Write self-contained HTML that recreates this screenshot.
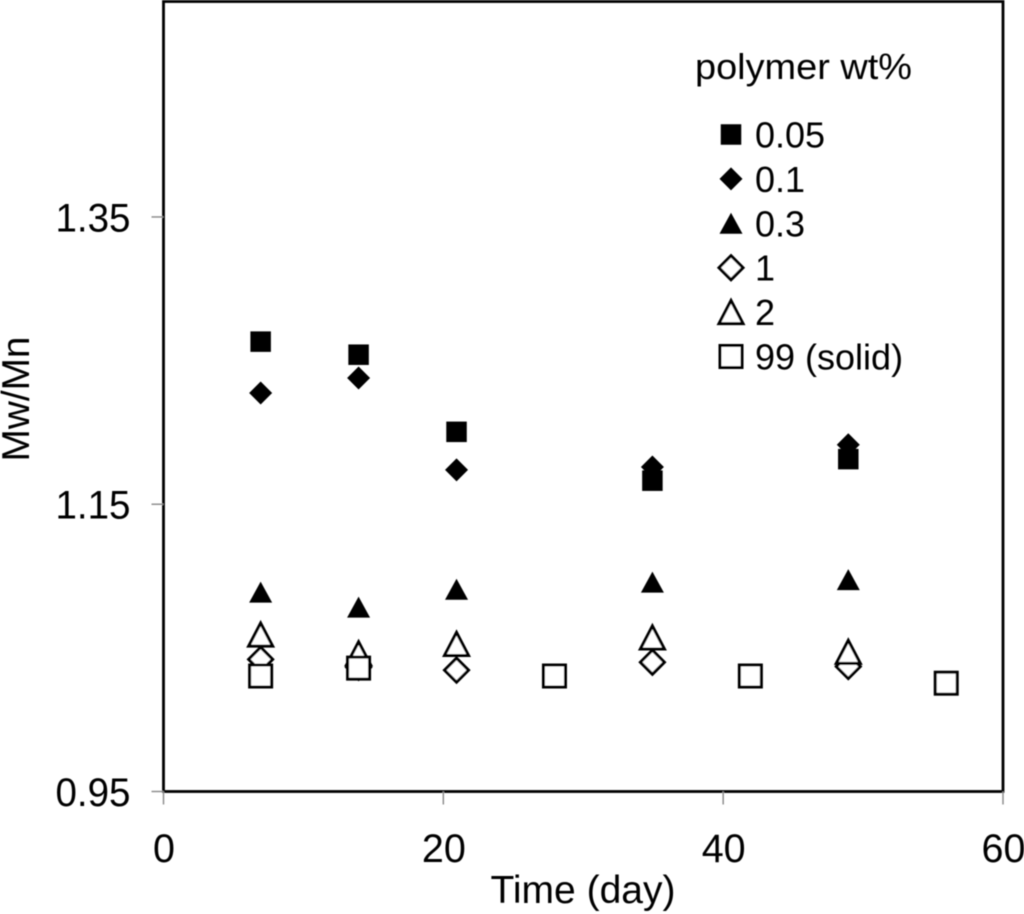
<!DOCTYPE html>
<html lang="en">
<head>
<meta charset="utf-8">
<title>Mw/Mn vs Time</title>
<style>
html,body{margin:0;padding:0;background:#fff;}
svg{display:block;}
text{font-family:"Liberation Sans",sans-serif;fill:#000;}
</style>
</head>
<body>
<svg id="chart" xmlns="http://www.w3.org/2000/svg" width="1024" height="914" viewBox="0 0 1024 914">
<defs><filter id="soft" x="-5%" y="-5%" width="110%" height="110%"><feGaussianBlur stdDeviation="0.4"/></filter></defs>
<rect width="1024" height="914" fill="#fff"/>
<g id="root" filter="url(#soft)"></g>
</svg>
<script>
const xTicks = [0, 20, 40, 60];
const yTicks = ["0.95", "1.15", "1.35"];
const legendTitle = "polymer wt%";

const seriesNames = ["0.05", "0.1", "0.3", "1", "2", "99 (solid)"];
const seriesSymbols = ["square-filled", "diamond-filled", "triangle-filled", "diamond-open", "triangle-open", "square-open"];

const days05 = [7, 14, 21, 35, 49];
const vals05 = [1.2632, 1.2541, 1.2004, 1.1664, 1.1814];
const days01 = [7, 14, 21, 35, 49];
const vals01 = [1.2274, 1.2379, 1.1739, 1.1759, 1.1914];
const days03 = [7, 14, 21, 35, 49];
const vals03 = [1.0888, 1.0784, 1.0908, 1.0958, 1.0975];
const days1 = [7, 14, 21, 35, 49];
const vals1 = [1.042, 1.0365, 1.0345, 1.04, 1.037];
const days2 = [7, 14, 21, 35, 49];
const vals2 = [1.0592, 1.0462, 1.0527, 1.0572, 1.0472];
const days99 = [7, 14, 28, 42, 56];
const vals99 = [1.0304, 1.0359, 1.0304, 1.0304, 1.0254];

const allDays = [days05, days01, days03, days1, days2, days99];
const allVals = [vals05, vals01, vals03, vals1, vals2, vals99];

const NS = "http://www.w3.org/2000/svg";
const root = document.getElementById("root");
const plot = {left: 163.5, right: 1003, top: 1.5, bottom: 791.5};
const xMin = 0, xMax = 60, yMin = 0.95, yMax = 1.5;
function xScale(v) { return plot.left + (v - xMin) / (xMax - xMin) * (plot.right - plot.left); }
function yScale(v) { return plot.bottom - (v - yMin) / (yMax - yMin) * (plot.bottom - plot.top); }

function make(tag, attrs, parent) {
  const el = document.createElementNS(NS, tag);
  for (const k in attrs) el.setAttribute(k, attrs[k]);
  (parent || root).appendChild(el);
  return el;
}

function marker(symbol, cx, cy, parent) {
  const open = symbol.endsWith("open");
  const style = open ? {fill: "#fff", stroke: "#000", "stroke-width": 3, "stroke-linejoin": "miter"} : {fill: "#000", stroke: "none"};
  if (symbol.startsWith("square")) {
    const s = open ? 22 : 20.5;
    return make("rect", Object.assign({x: cx - s / 2, y: cy - s / 2, width: s, height: s}, style), parent);
  }
  if (symbol.startsWith("diamond")) {
    const r = open ? 12 : 11.5;
    return make("polygon", Object.assign({points: `${cx},${cy - r} ${cx + r},${cy} ${cx},${cy + r} ${cx - r},${cy}`}, style), parent);
  }
  const w = open ? 12 : 11.5, h = open ? 11.5 : 10.5;
  return make("polygon", Object.assign({points: `${cx},${cy - h} ${cx + w},${cy + h} ${cx - w},${cy + h}`}, style), parent);
}

/* frame */
const frame = make("rect", {x: plot.left, y: plot.top, width: plot.right - plot.left, height: plot.bottom - plot.top, fill: "none", stroke: "#000", "stroke-width": 2.8});



/* y axis */
yTicks.forEach(function (t) {
  const y = yScale(parseFloat(t));
  const tick = make("line", {x1: plot.left - 12, x2: plot.left, y1: y, y2: y, stroke: "#888", "stroke-width": 1.4});
  
  
  const label = make("text", {x: 130.5, y: y + 14.5, "text-anchor": "end", "font-size": 39.5, textLength: 75, lengthAdjust: "spacingAndGlyphs"});
  label.textContent = t;
  
  
});

/* x axis */
xTicks.forEach(function (t) {
  const x = xScale(t);
  const tick = make("line", {x1: x, x2: x, y1: plot.bottom, y2: plot.bottom + 13, stroke: "#888", "stroke-width": 1.4});
  
  
  const label = make("text", {x: x + 0.5, y: 862, "text-anchor": "middle", "font-size": 39.5});
  label.textContent = String(t);
  
  
});

const xTitle = make("text", {x: 583, y: 903, "text-anchor": "middle", "font-size": 38.5, textLength: 185, lengthAdjust: "spacingAndGlyphs"});
xTitle.textContent = "Time (day)";



const yTitle = make("text", {x: 0, y: 0, transform: "translate(29,399) rotate(-90)", "text-anchor": "middle", "font-size": 38.5, textLength: 125, lengthAdjust: "spacingAndGlyphs"});
yTitle.textContent = "Mw/Mn";



/* series */
allVals.forEach(function (vals, s) {
  const g = make("g", {});
  
  
  vals.forEach(function (v, i) {
    const m = marker(seriesSymbols[s], xScale(allDays[s][i]) - 0.8, yScale(v), g);
    
    
  });
});

/* legend */
const legend = make("g", {});


const lt = make("text", {x: 695, y: 79, "font-size": 36.5, textLength: 217, lengthAdjust: "spacingAndGlyphs"}, legend);
lt.textContent = legendTitle;


seriesNames.forEach(function (name, i) {
  const rowY = 134.5 + i * 44.4;
  const g = make("g", {}, legend);
  
  
  const m = marker(seriesSymbols[i], 731, rowY, g);
  
  
  const t = make("text", {x: 755, y: rowY + 13, "font-size": 36}, g);
  t.textContent = name;
  
  
});
</script>
</body>
</html>
